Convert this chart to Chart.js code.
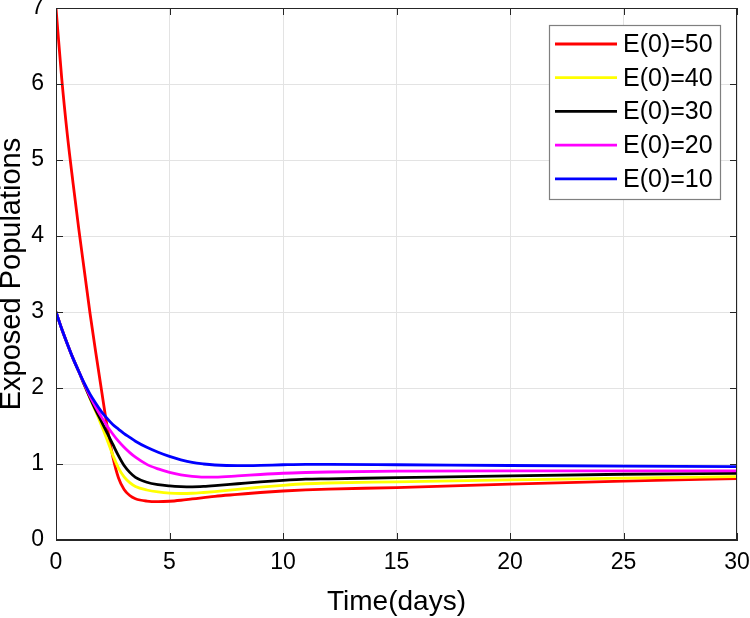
<!DOCTYPE html>
<html>
<head>
<meta charset="utf-8">
<script src="https://cdn.jsdelivr.net/npm/chart.js@4/dist/chart.umd.min.js"></script>
<style>
  html, body { margin: 0; padding: 0; background: #ffffff; }
  #wrap { width: 750px; height: 618px; position: relative; }
</style>
</head>
<body>
<div id="wrap"><canvas id="c" width="750" height="618"></canvas></div>
<script>
// ---- data ----
const timeDays = [0, 0.25, 0.5, 0.75, 1, 1.25, 1.5, 1.75, 2, 2.25, 2.5, 2.75, 3, 3.25, 3.5, 4, 4.5, 5, 5.5, 6, 6.5, 7, 8, 9, 10, 11, 12, 15, 20, 25, 30];

const seriesLabels = ['E(0)=50', 'E(0)=40', 'E(0)=30', 'E(0)=20', 'E(0)=10'];
const seriesColors = ['#ff0000', '#ffff00', '#000000', '#ff00ff', '#0000ff'];

const e50 = [7.00, 6.08, 5.33, 4.70, 4.10, 3.54, 2.98, 2.47, 1.98, 1.50, 1.10, 0.82, 0.665, 0.585, 0.543, 0.512, 0.505, 0.51, 0.523, 0.54, 0.557, 0.575, 0.60, 0.625, 0.645, 0.66, 0.67, 0.69, 0.735, 0.775, 0.807];
const e40 = [3.00, 2.78, 2.58, 2.39, 2.22, 2.04, 1.86, 1.69, 1.51, 1.32, 1.12, 0.95, 0.83, 0.755, 0.705, 0.658, 0.632, 0.617, 0.612, 0.615, 0.625, 0.637, 0.665, 0.695, 0.72, 0.74, 0.75, 0.765, 0.79, 0.815, 0.833];
const e30 = [3.00, 2.78, 2.58, 2.39, 2.22, 2.04, 1.87, 1.71, 1.56, 1.41, 1.26, 1.11, 0.98, 0.89, 0.825, 0.76, 0.728, 0.712, 0.703, 0.70, 0.705, 0.715, 0.74, 0.765, 0.785, 0.80, 0.805, 0.82, 0.845, 0.865, 0.877];
const e20 = [3.00, 2.78, 2.58, 2.39, 2.22, 2.05, 1.89, 1.75, 1.62, 1.50, 1.395, 1.30, 1.22, 1.15, 1.09, 0.995, 0.935, 0.89, 0.858, 0.838, 0.828, 0.828, 0.843, 0.862, 0.878, 0.888, 0.895, 0.905, 0.91, 0.91, 0.91];
const e10 = [3.00, 2.78, 2.58, 2.39, 2.22, 2.06, 1.92, 1.80, 1.69, 1.60, 1.52, 1.46, 1.40, 1.35, 1.30, 1.22, 1.155, 1.10, 1.055, 1.02, 1.00, 0.987, 0.978, 0.982, 0.99, 0.995, 0.995, 0.99, 0.98, 0.972, 0.965];

const xTickValues = [0, 5, 10, 15, 20, 25, 30];
const yTickValues = [0, 1, 2, 3, 4, 5, 6, 7];
const xTitle = 'Time(days)';
const yTitle = 'Exposed Populations';

// ---- build datasets ----
const allSeries = [e50, e40, e30, e20, e10];
const datasets = allSeries.map((vals, i) => ({
  label: seriesLabels[i],
  data: timeDays.map((t, k) => ({ x: t, y: vals[k] })),
  borderColor: seriesColors[i],
  backgroundColor: seriesColors[i],
  borderWidth: 2.8,
  pointRadius: 0,
  fill: false,
  cubicInterpolationMode: 'monotone',
  order: allSeries.length - i
}));

const FONT = "'Liberation Sans', Arial, Helvetica, sans-serif";
const AXIS_COLOR = '#262626';

// Box outline, inward tick marks and the in-plot legend
const matlabFrame = {
  id: 'matlabFrame',
  afterDatasetsDraw(chart) {
    const { ctx, chartArea: a, scales } = chart;
    ctx.save();
    ctx.strokeStyle = AXIS_COLOR;
    ctx.lineWidth = 1;
    ctx.strokeRect(a.left + 0.5, a.top + 0.5, a.right - a.left - 1, a.bottom - a.top - 1);
    const tl = 7;
    ctx.beginPath();
    xTickValues.forEach(v => {
      const px = Math.round(scales.x.getPixelForValue(v)) + 0.5;
      ctx.moveTo(px, a.bottom); ctx.lineTo(px, a.bottom - tl);
      ctx.moveTo(px, a.top); ctx.lineTo(px, a.top + tl);
    });
    yTickValues.forEach(v => {
      const py = Math.round(scales.y.getPixelForValue(v)) + 0.5;
      ctx.moveTo(a.left, py); ctx.lineTo(a.left + tl, py);
      ctx.moveTo(a.right, py); ctx.lineTo(a.right - tl, py);
    });
    ctx.stroke();

    // legend box
    const bw = 171, bh = 174;
    const bx = a.right - 17 - bw, by = a.top + 17;
    ctx.fillStyle = '#ffffff';
    ctx.fillRect(bx, by, bw, bh);
    ctx.strokeStyle = '#7f7f7f';
    ctx.lineWidth = 1.2;
    ctx.strokeRect(bx + 0.5, by + 0.5, bw, bh);
    ctx.font = '25px ' + FONT;
    ctx.textBaseline = 'middle';
    ctx.textAlign = 'left';
    const rowH = 33.7;
    chart.data.datasets.forEach((ds, i) => {
      const cy = by + 19 + i * rowH;
      ctx.strokeStyle = ds.borderColor;
      ctx.lineWidth = 2.8;
      ctx.beginPath();
      ctx.moveTo(bx + 6, cy); ctx.lineTo(bx + 68, cy);
      ctx.stroke();
      ctx.fillStyle = '#000000';
      ctx.fillText(ds.label, bx + 74, cy + 1);
    });
    ctx.restore();
  }
};

new Chart(document.getElementById('c'), {
  type: 'line',
  data: { datasets },
  options: {
    responsive: false,
    animation: false,
    devicePixelRatio: 1,
    layout: { padding: { top: 8, right: 13, left: 0, bottom: 0 } },
    plugins: { legend: { display: false }, tooltip: { enabled: false } },
    scales: {
      x: {
        type: 'linear',
        min: 0, max: 30,
        afterFit(s) { s.height = 78; s.paddingLeft = 0; s.paddingRight = 0; },
        afterBuildTicks(s) { s.ticks = xTickValues.map(v => ({ value: v })); },
        ticks: { color: '#000', font: { family: FONT, size: 23 }, padding: 9, maxRotation: 0 },
        grid: { color: '#e3e3e3', lineWidth: 1, drawTicks: false },
        border: { color: AXIS_COLOR, width: 1 },
        title: { display: true, text: xTitle, color: '#000', font: { family: FONT, size: 28, lineHeight: 1.1 }, padding: 0 }
      },
      y: {
        type: 'linear',
        min: 0, max: 7,
        afterFit(s) { s.width = 56; s.paddingTop = 0; s.paddingBottom = 0; },
        afterBuildTicks(s) { s.ticks = yTickValues.map(v => ({ value: v })); },
        ticks: { color: '#000', font: { family: FONT, size: 23 }, padding: 12 },
        grid: { color: '#e3e3e3', lineWidth: 1, drawTicks: false },
        border: { color: AXIS_COLOR, width: 1 },
        title: { display: true, text: yTitle, color: '#000', font: { family: FONT, size: 29, lineHeight: 0.85 }, padding: 0 }
      }
    }
  },
  plugins: [matlabFrame]
});
</script>
</body>
</html>
